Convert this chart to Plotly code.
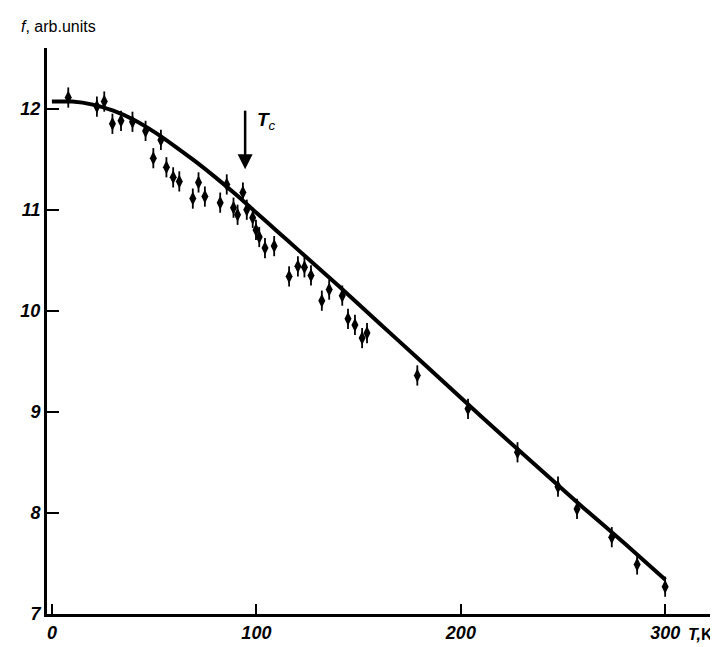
import plotly.graph_objects as go

# Measured points (T in K, f in arb. units)
T_data = [8.0, 22.0, 25.6, 29.6, 33.8, 39.4, 45.8, 49.6, 53.3, 56.0, 59.3, 62.3,
          68.9, 71.7, 74.8, 82.3, 85.5, 88.8, 90.8, 93.4, 95.3, 98.2, 99.8, 101.4,
          104.2, 108.7, 116.0, 120.3, 123.5, 126.7, 132.0, 135.6, 142.0, 144.8,
          148.2, 151.7, 154.1, 178.7, 203.5, 227.7, 247.5, 256.8, 273.8, 286.2, 299.9]
f_data = [12.11, 12.02, 12.07, 11.85, 11.88, 11.87, 11.78, 11.51, 11.69, 11.42, 11.32, 11.28,
          11.11, 11.27, 11.13, 11.07, 11.25, 11.02, 10.95, 11.17, 11.00, 10.92, 10.80, 10.73,
          10.62, 10.64, 10.34, 10.44, 10.43, 10.35, 10.10, 10.21, 10.15, 9.92,
          9.86, 9.73, 9.78, 9.36, 9.03, 8.60, 8.26, 8.04, 7.76, 7.49, 7.27]
f_err = [0.1] * len(T_data)

# Fitted curve
T_fit = [0, 10, 20, 30, 40, 50, 60, 70, 80, 90, 100, 110, 120, 140, 160, 180,
         200, 220, 240, 260, 280, 300]
f_fit = [12.07, 12.07, 12.04, 11.98, 11.89, 11.77, 11.63, 11.48, 11.32, 11.15, 10.97,
         10.79, 10.61, 10.25, 9.88, 9.51, 9.14, 8.77, 8.41, 8.05, 7.70, 7.34]

x_ticks = [0, 100, 200, 300]
x_ticktext = ["0", "100", "200", "300"]
y_ticks = [7, 8, 9, 10, 11, 12]
y_ticktext = ["7", "8", "9", "10", "11", "12"]

# Tc marker arrow
Tc = 94.5
Tc_arrow_top = 11.98
Tc_arrow_tip = 11.40

tickfont = dict(family="Liberation Sans, Arial, sans-serif", size=18,
                color="black", style="italic", weight="bold")

fig = go.Figure()
fig.add_trace(go.Scatter(
    x=T_fit, y=f_fit, mode="lines",
    line=dict(color="black", width=4, shape="spline", smoothing=0.6),
    showlegend=False, hoverinfo="skip"))
fig.add_trace(go.Scatter(
    x=T_data, y=f_data, mode="markers",
    marker=dict(symbol="diamond-tall", size=10, color="black"),
    error_y=dict(type="data", array=f_err, color="black", thickness=1.8, width=0),
    showlegend=False))

# Tc arrow: shaft + head
fig.add_trace(go.Scatter(
    x=[Tc, Tc], y=[Tc_arrow_top, Tc_arrow_tip + 0.14], mode="lines",
    line=dict(color="black", width=2.5), showlegend=False, hoverinfo="skip"))
fig.add_trace(go.Scatter(
    x=[Tc], y=[Tc_arrow_tip], mode="markers",
    marker=dict(symbol="arrow-down", size=15, color="black",
                line=dict(width=0)),
    showlegend=False, hoverinfo="skip"))

fig.add_annotation(x=Tc, y=Tc_arrow_top, xref="x", yref="y", xshift=10, yshift=4,
                   showarrow=False, text="<i><b>T</b><sub>c</sub></i>",
                   font=dict(family="Liberation Sans, Arial", size=19, color="black"),
                   xanchor="left", yanchor="top")
fig.add_annotation(x=1.0, y=0, xref="paper", yref="paper", yshift=-20, xshift=2,
                   showarrow=False, text="<i><b>T,</b></i><b>K</b>",
                   font=dict(family="Liberation Sans, Arial", size=16, color="black"),
                   xanchor="right", yanchor="middle")
fig.add_annotation(x=0, y=1, xref="paper", yref="paper", xshift=-28, yshift=22,
                   showarrow=False, text="<i>f</i>, arb.units",
                   font=dict(family="Liberation Sans, Arial", size=16, color="black"),
                   xanchor="left", yanchor="middle")

fig.update_xaxes(range=[-2.4, 323.3], showgrid=False, zeroline=False,
                 showline=True, linecolor="black", linewidth=3,
                 tickmode="array", tickvals=x_ticks, ticktext=x_ticktext,
                 ticks="inside", ticklen=10, tickwidth=2, tickcolor="black",
                 tickfont=tickfont)
fig.update_yaxes(range=[7, 12.6], showgrid=False, zeroline=False,
                 showline=True, linecolor="black", linewidth=3,
                 tickmode="array", tickvals=y_ticks, ticktext=y_ticktext,
                 ticks="inside", ticklen=12, tickwidth=2, tickcolor="black",
                 tickfont=tickfont)

fig.update_layout(width=718, height=647, plot_bgcolor="white", paper_bgcolor="white",
                  margin=dict(l=35, r=13, t=40, b=35))

fig.write_html("out.html")
